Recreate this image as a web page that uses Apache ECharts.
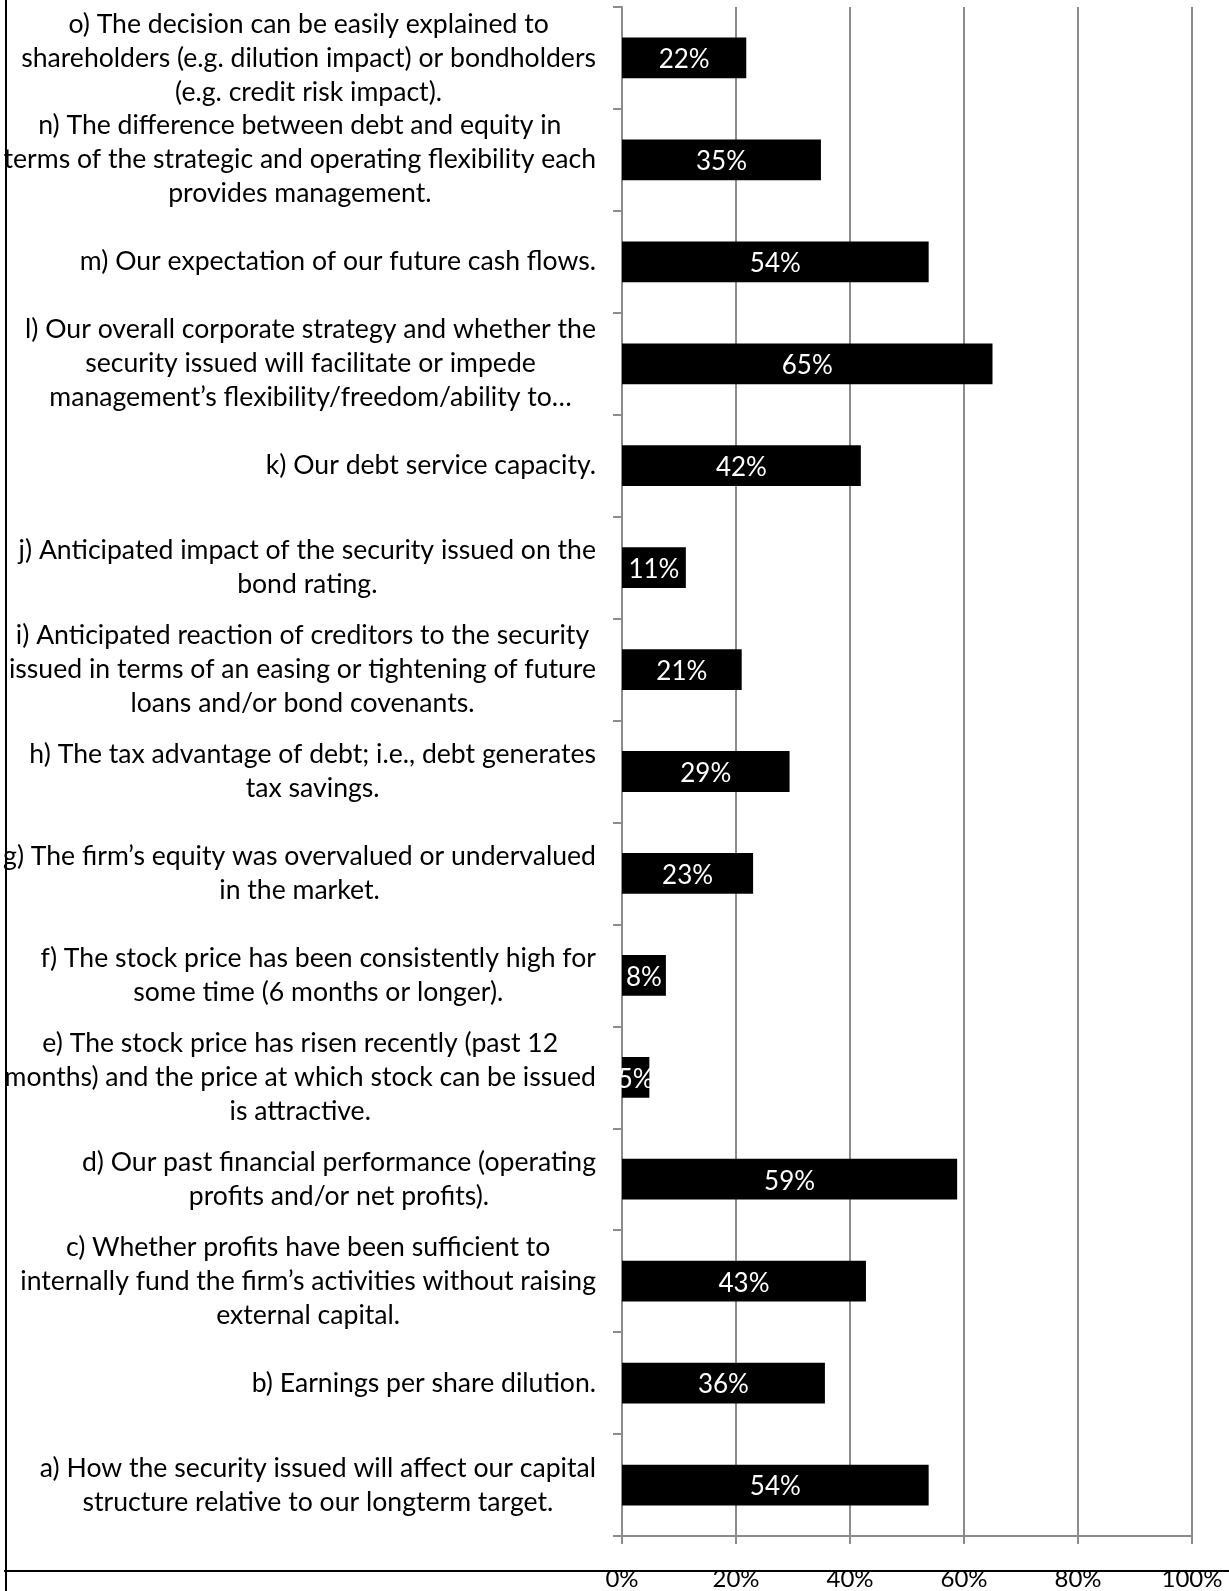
<!DOCTYPE html>
<html>
<head>
<meta charset="utf-8">
<title>Capital structure decision factors</title>
<script src="https://cdn.jsdelivr.net/npm/echarts@6/dist/echarts.min.js"></script>
<style>
    html, body { margin: 0; padding: 0; background: #fff; }
    #chart { width: 1229px; height: 1591px; }
</style>
</head>
<body>
<div id="chart"></div>
<script>
// categories, bottom (a) to top (o) as the category axis draws them
var categories = [
    'a) How the security issued will affect our capital\nstructure relative to our longterm target.',
    'b) Earnings per share dilution.',
    'c) Whether profits have been sufficient to\ninternally fund the firm\u2019s activities without raising\nexternal capital.',
    'd) Our past financial performance (operating\nprofits and/or net profits).',
    'e) The stock price has risen recently (past 12\nmonths) and the price at which stock can be issued\nis attractive.',
    'f) The stock price has been consistently high for\nsome time (6 months or longer).',
    'g) The firm\u2019s equity was overvalued or undervalued\nin the market.',
    'h) The tax advantage of debt; i.e., debt generates\ntax savings.',
    'i) Anticipated reaction of creditors to the security\nissued in terms of an easing or tightening of future\nloans and/or bond covenants.',
    'j) Anticipated impact of the security issued on the\nbond rating.',
    'k) Our debt service capacity.',
    'l) Our overall corporate strategy and whether the\nsecurity issued will facilitate or impede\nmanagement\u2019s flexibility/freedom/ability to\u2026',
    'm) Our expectation of our future cash flows.',
    'n) The difference between debt and equity in\nterms of the strategic and operating flexibility each\nprovides management.',
    'o) The decision can be easily explained to\nshareholders (e.g. dilution impact) or bondholders\n(e.g. credit risk impact).'
];

// share of respondents, percent
var values = [53.8, 35.6, 42.8, 58.8, 4.8, 7.7, 23.0, 29.4, 21.0, 11.2, 41.9, 65.0, 53.8, 34.9, 21.8];

var tickLabels = ['0%', '20%', '40%', '60%', '80%', '100%'];

(function () {
    'use strict';

    var font = 'Lato';
    var gray = '#8c8c8c';
    var chart = echarts.init(document.getElementById('chart'), null, { renderer: 'canvas' });

    chart.setOption({
        animation: false,
        backgroundColor: '#ffffff',
        grid: {
            left: 622,
            right: 37,
            top: 7,
            bottom: 44,
            containLabel: false
        },
        xAxis: {
            type: 'value',
            min: 0,
            max: 100,
            interval: 20,
            axisLine: { show: true, lineStyle: { color: gray, width: 2 } },
            axisTick: { show: true, length: 8, lineStyle: { color: gray, width: 2 } },
            splitLine: { show: true, lineStyle: { color: gray, width: 2 } },
            axisLabel: {
                margin: 31,
                color: '#000',
                fontFamily: font,
                fontSize: 24,
                formatter: function (v) {
                    return tickLabels[Math.round(v / 20)];
                }
            }
        },
        yAxis: {
            type: 'category',
            data: categories,
            axisLine: { show: true, lineStyle: { color: gray, width: 2 } },
            axisTick: { show: true, length: 9, lineStyle: { color: gray, width: 2 } },
            axisLabel: {
                interval: 0,
                margin: 26,
                align: 'right',
                // each line centred inside the label block, block flush right
                formatter: function (v) {
                    return v.split('\n').map(function (line) {
                        return '{c|' + line + '}';
                    }).join('\n');
                },
                rich: {
                    c: {
                        align: 'center',
                        color: '#000',
                        fontFamily: font,
                        fontSize: 26.6,
                        lineHeight: 34
                    }
                }
            }
        },
        graphic: [
            {
                type: 'line',
                shape: { x1: 6, y1: 0, x2: 6, y2: 1591 },
                style: { stroke: '#000', lineWidth: 2 }
            },
            {
                type: 'line',
                shape: { x1: 4, y1: 1571, x2: 1229, y2: 1571 },
                style: { stroke: '#000', lineWidth: 2 }
            }
        ],
        series: [{
            type: 'bar',
            data: values,
            barWidth: '40%',
            itemStyle: { color: '#000' },
            label: {
                show: true,
                position: 'inside',
                offset: [0, 2],
                color: '#fff',
                fontFamily: font,
                fontSize: 26,
                formatter: function (p) {
                    return Math.round(p.value) + '%';
                }
            }
        }]
    });
}());
</script>
</body>
</html>
